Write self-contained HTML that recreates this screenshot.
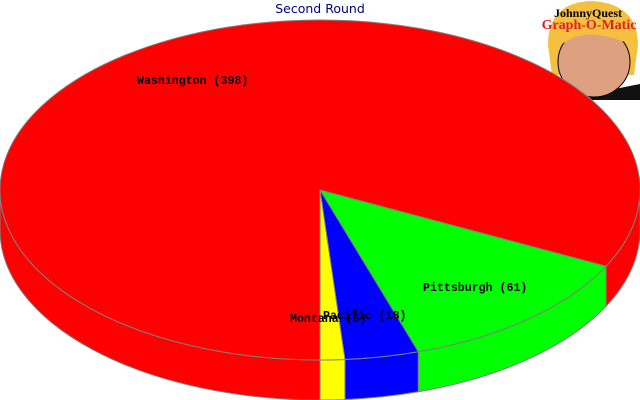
<!DOCTYPE html>
<html><head><meta charset="utf-8"><style>
body{margin:0;background:#fff;width:640px;height:400px;overflow:hidden}
svg{display:block}
text{font-family:"Liberation Mono",monospace}
</style></head><body>
<svg id="c" width="640" height="400" xmlns="http://www.w3.org/2000/svg">
<text x="320" y="13" text-anchor="middle" fill="#000080" style="font-family:'DejaVu Sans',sans-serif;font-size:12.5px">Second Round</text>
</svg>
<script>
const labels=["Washington","Pittsburgh","Pacific","Montana"];
const values=[398,61,18,6];
const colors=["#ff0000","#00ff00","#0000ff","#ffff00"];
const cx=320,cy=190,rx=320,ry=170,depth=40;
const svg=document.getElementById('c');
const NS="http://www.w3.org/2000/svg";
const total=values.reduce((a,b)=>a+b,0);
function pt(a,dy){const r=a*Math.PI/180;return [cx+rx*Math.cos(r),cy+ry*Math.sin(r)+(dy||0)];}
let ranges=[];let cur=90;
for(let i=values.length-1;i>=0;i--){const sw=values[i]/total*360;ranges[i]=[cur-sw,cur];cur-=sw;}
// logo drawn first (pie overlaps it)
const g=document.createElementNS(NS,'g');


g.innerHTML=`<path d="M600,92 L640,84 L640,100 L585,100 Z" fill="#111"/>
<path d="M548,45 Q548,2 592,1 Q638,4 638,45 L634,75 L552,75 Z" fill="#f5c040"/>
<ellipse cx="594" cy="62" rx="36" ry="35" fill="#dda080" stroke="#000" stroke-width="1"/>
<path d="M556,50 Q580,22 632,45 L632,30 Q595,12 556,32 Z" fill="#f5c040"/>
<text x="588" y="17" text-anchor="middle" style="font-family:'Liberation Serif',serif;font-size:12px;font-weight:bold" fill="#000">JohnnyQuest</text>
<text x="589" y="29" text-anchor="middle" style="font-family:'Liberation Serif',serif;font-size:14px;font-weight:bold" fill="#e02020">Graph-O-Matic</text>`;
svg.appendChild(g);
const sides=document.createElementNS(NS,'g');svg.appendChild(sides);
const tops=document.createElementNS(NS,'g');svg.appendChild(tops);
ranges.forEach((r,i)=>{
  let [a0,a1]=r;
  [[0,180],[360,540],[-360,-180]].forEach(([s,e])=>{
    const b0=Math.max(a0,s),b1=Math.min(a1,e);
    if(b1>b0){
      const p0=pt(b0),p1=pt(b1),q1=pt(b1,depth),q0=pt(b0,depth);
      const p=document.createElementNS(NS,'path');
      p.setAttribute('d',`M${p0} A${rx},${ry} 0 0 1 ${p1} L${q1} A${rx},${ry} 0 0 0 ${q0} Z`);
      p.setAttribute('fill',colors[i]);p.setAttribute('stroke','#808080');p.setAttribute('stroke-width','1');
      
      
      sides.appendChild(p);
    }
  });
  const p0=pt(a0),p1=pt(a1);const large=(a1-a0)>180?1:0;
  const p=document.createElementNS(NS,'path');
  p.setAttribute('d',`M${cx},${cy} L${p0} A${rx},${ry} 0 ${large} 1 ${p1} Z`);
  p.setAttribute('fill',colors[i]);p.setAttribute('stroke','#808080');p.setAttribute('stroke-width','1');
  
  
  tops.appendChild(p);
});
const lblPos=[[137,84],[423,291],[323,319],[290,322]];
labels.forEach((l,i)=>{
  const t=document.createElementNS(NS,'text');
  t.setAttribute('x',lblPos[i][0]);t.setAttribute('y',lblPos[i][1]);
  t.setAttribute('font-size','11.6');t.setAttribute('font-weight','bold');
  t.textContent=l+' ('+values[i]+')';
  
  
  svg.appendChild(t);
});
</script>
</body></html>
